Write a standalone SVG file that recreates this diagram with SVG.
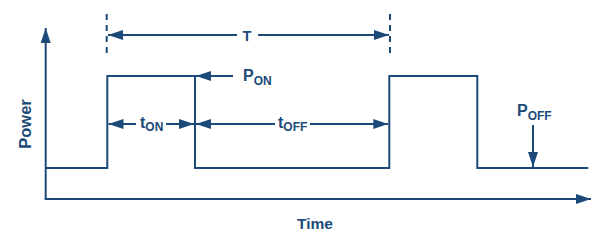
<svg xmlns="http://www.w3.org/2000/svg" width="600" height="244" viewBox="0 0 600 244">
<style>
.ln{stroke:#1b4a78;stroke-width:2;fill:none}
.ds{stroke:#1b4a78;stroke-width:2;fill:none;stroke-dasharray:6,5}
.tx{font-family:"Liberation Sans",Arial,sans-serif;font-weight:bold;fill:#1b4a78}
.ah{fill:#1b4a78}
</style>
<defs>
<marker id="arr" viewBox="0 0 15 10" refX="15" refY="5" markerWidth="15" markerHeight="10" markerUnits="userSpaceOnUse" orient="auto-start-reverse">
<path class="ah" d="M0,0 L15,5 L0,10 Z"/>
</marker>
</defs>
<g id="axes">
<line class="ln" x1="45.7" y1="199" x2="45.7" y2="28" marker-end="url(#arr)"/>
<line class="ln" x1="44.7" y1="199" x2="591" y2="199" marker-end="url(#arr)"/>
</g>
<g id="waveform">
<polyline class="ln" points="45.7,168 107.3,168 107.3,76 195,76 195,168 389.3,168 389.3,76 477.3,76 477.3,168 588.3,168"/>
</g>
<g id="connectors">
<line class="ds" x1="106.7" y1="14" x2="106.7" y2="57"/>
<line class="ds" x1="390" y1="14" x2="390" y2="57"/>
<line class="ln" x1="237" y1="35" x2="108" y2="35" marker-end="url(#arr)"/>
<line class="ln" x1="258" y1="35" x2="389" y2="35" marker-end="url(#arr)"/>
<line class="ln" x1="233" y1="76" x2="196" y2="76" marker-end="url(#arr)"/>
<line class="ln" x1="136" y1="124" x2="108.5" y2="124" marker-end="url(#arr)"/>
<line class="ln" x1="166" y1="124" x2="194" y2="124" marker-end="url(#arr)"/>
<line class="ln" x1="275" y1="124" x2="196" y2="124" marker-end="url(#arr)"/>
<line class="ln" x1="310" y1="124" x2="388.3" y2="124" marker-end="url(#arr)"/>
<line class="ln" x1="533" y1="125" x2="533" y2="167" marker-end="url(#arr)"/>
</g>
<g id="labels">
<text class="tx" x="247" y="40.5" font-size="14.5" text-anchor="middle">T</text>
<text class="tx" x="243" y="80.5" font-size="16">P<tspan font-size="12" dy="4">ON</tspan></text>
<text class="tx" x="140" y="128" font-size="16">t<tspan font-size="12" dy="3">ON</tspan></text>
<text class="tx" x="278" y="128" font-size="16">t<tspan font-size="12" dy="3">OFF</tspan></text>
<text class="tx" x="517" y="116" font-size="16">P<tspan font-size="12" dy="4">OFF</tspan></text>
<text class="tx" x="315" y="229" font-size="15.5" text-anchor="middle">Time</text>
<text class="tx" font-size="16.5" text-anchor="middle" transform="translate(31,124) rotate(-90)">Power</text>
</g>
</svg>
